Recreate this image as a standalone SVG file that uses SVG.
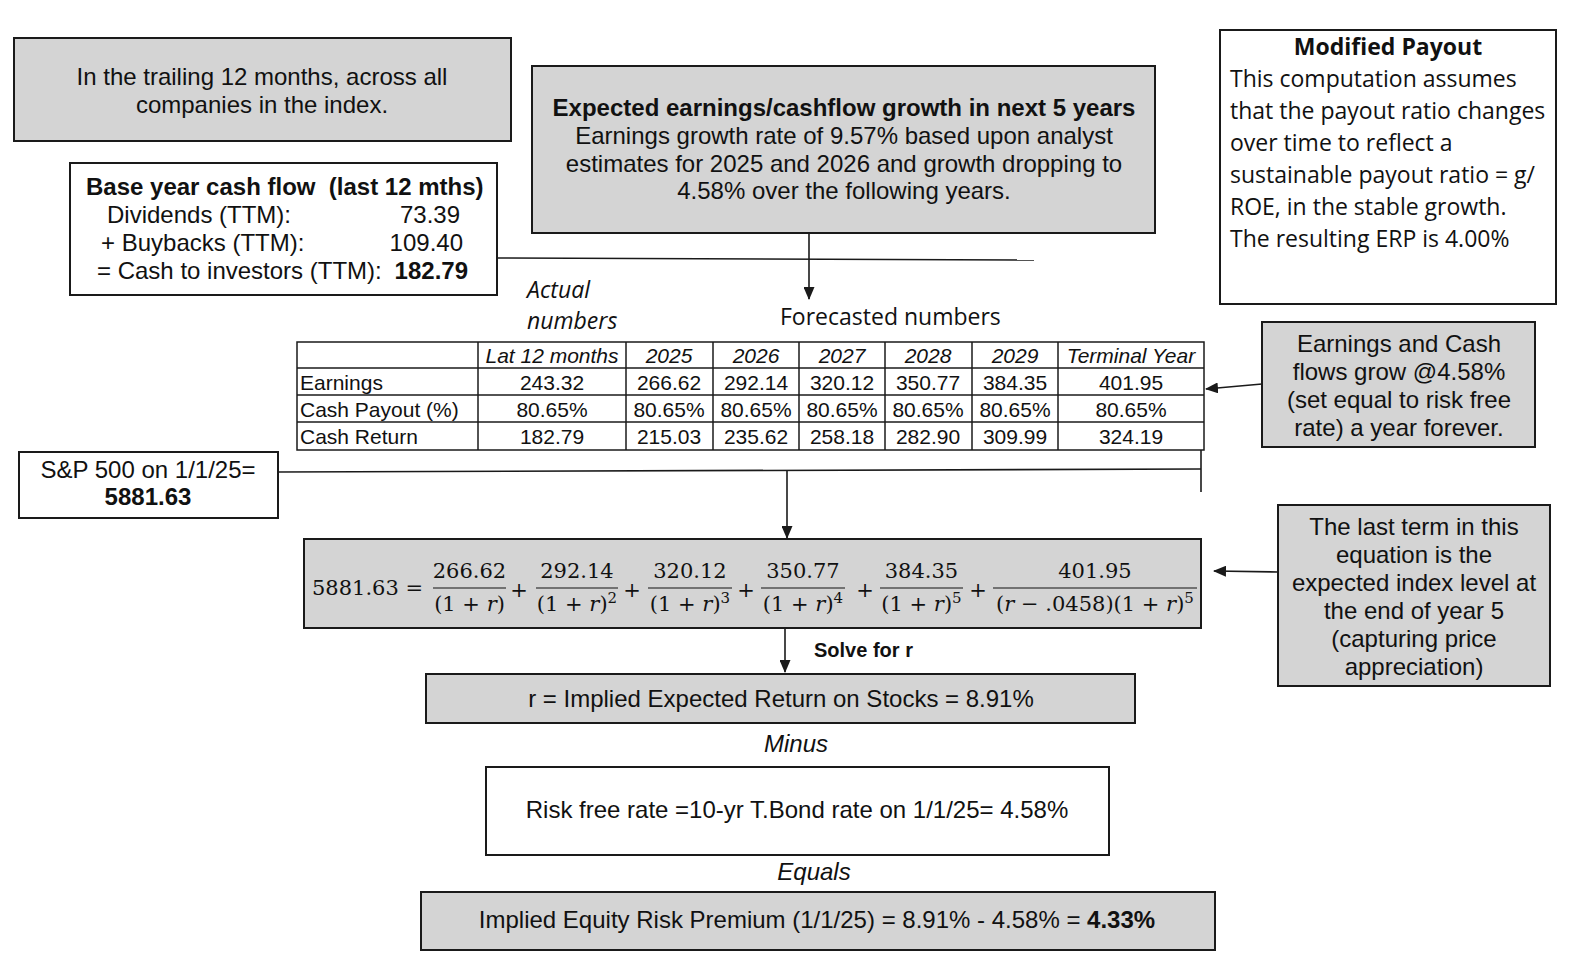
<svg xmlns="http://www.w3.org/2000/svg" width="1578" height="972" viewBox="0 0 1578 972">
<style>
.box{stroke:#1a1a1a;stroke-width:2;}
.g{fill:#d4d4d4;}
.w{fill:#ffffff;}
.t{font-family:"Liberation Sans",Arial,sans-serif;font-size:24px;fill:#111;}
.c{text-anchor:middle;}
.e{text-anchor:end;}
.b{font-weight:bold;}
.i{font-style:italic;}
.av{font-family:"Open Sans","Noto Sans",sans-serif;font-size:23px;fill:#111;}
.tb{font-family:"Liberation Sans",Arial,sans-serif;font-size:21px;fill:#111;}
.m{font-family:"DejaVu Serif","Liberation Serif",serif;font-size:21px;fill:#111;}
.sup{font-size:15px;}
.ln{stroke:#1a1a1a;stroke-width:1.6;fill:none;}
.tl{stroke:#1a1a1a;stroke-width:1.5;fill:none;}
.s20{font-size:20px;}
</style>
<defs>
<marker id="ah" markerUnits="userSpaceOnUse" markerWidth="13" markerHeight="11" refX="12" refY="5.5" orient="auto">
<path d="M0,0 L13,5.5 L0,11 z" fill="#1a1a1a"/>
</marker>
</defs>
<rect width="1578" height="972" fill="#ffffff"/>

<g id="connectors">
<line class="ln" x1="497" y1="258" x2="1034" y2="260"/>
<line class="ln" x1="809" y1="233" x2="809" y2="299" marker-end="url(#ah)"/>
<line class="ln" x1="1262" y1="384" x2="1206" y2="389" marker-end="url(#ah)"/>
<line class="ln" x1="278" y1="472" x2="1201" y2="469"/>
<line class="ln" x1="1201" y1="450" x2="1201" y2="492"/>
<line class="ln" x1="787" y1="471" x2="787" y2="538" marker-end="url(#ah)"/>
<line class="ln" x1="1278" y1="572" x2="1214" y2="571" marker-end="url(#ah)"/>
<line class="ln" x1="785" y1="628" x2="785" y2="672" marker-end="url(#ah)"/>
</g>

<g id="trailing">
<rect class="box g" x="14" y="38" width="497" height="103"/>
<text class="t c" x="262" y="85">In the trailing 12 months, across all</text>
<text class="t c" x="262" y="113">companies in the index.</text>
</g>

<g id="base-year">
<rect class="box w" x="70" y="163" width="427" height="132"/>
<text class="t b" x="86" y="195">Base year cash flow &#160;(last 12 mths)</text>
<text class="t" x="107" y="223">Dividends (TTM):</text>
<text class="t e" x="460" y="223">73.39</text>
<text class="t" x="101" y="251">+ Buybacks (TTM):</text>
<text class="t e" x="463" y="251">109.40</text>
<text class="t" x="97" y="279">= Cash to investors (TTM):</text>
<text class="t e b" x="468" y="279">182.79</text>
</g>

<g id="growth">
<rect class="box g" x="532" y="66" width="623" height="167"/>
<text class="t c b" x="844" y="116">Expected earnings/cashflow growth in next 5 years</text>
<text class="t c" x="844" y="144">Earnings growth rate of 9.57% based upon analyst</text>
<text class="t c" x="844" y="172">estimates for 2025 and 2026 and growth dropping to</text>
<text class="t c" x="844" y="199">4.58% over the following years.</text>
</g>

<g id="modified-payout">
<rect class="box w" x="1220" y="30" width="336" height="274"/>
<text class="av c" x="1388" y="55" font-weight="bold">Modified Payout</text>
<text class="av" x="1230" y="87">This computation assumes</text>
<text class="av" x="1230" y="119">that the payout ratio changes</text>
<text class="av" x="1230" y="151">over time to reflect a</text>
<text class="av" x="1230" y="183">sustainable payout ratio = g/</text>
<text class="av" x="1230" y="215">ROE, in the stable growth.</text>
<text class="av" x="1230" y="247">The resulting ERP is 4.00%</text>
</g>

<g id="labels">
<text class="av i" x="527" y="298">Actual</text>
<text class="av i" x="527" y="329">numbers</text>
<text class="av" x="780" y="325">Forecasted numbers</text>
</g>

<g id="table">
<rect class="tl" x="297" y="342" width="907" height="108" fill="#fff"/>
<line class="tl" x1="297" y1="368" x2="1204" y2="368"/>
<line class="tl" x1="297" y1="395" x2="1204" y2="395"/>
<line class="tl" x1="297" y1="422" x2="1204" y2="422"/>
<line class="tl" x1="478" y1="342" x2="478" y2="450"/>
<line class="tl" x1="626" y1="342" x2="626" y2="450"/>
<line class="tl" x1="713" y1="342" x2="713" y2="450"/>
<line class="tl" x1="799" y1="342" x2="799" y2="450"/>
<line class="tl" x1="885" y1="342" x2="885" y2="450"/>
<line class="tl" x1="972" y1="342" x2="972" y2="450"/>
<line class="tl" x1="1058" y1="342" x2="1058" y2="450"/>
<g class="tb i c">
<text x="552" y="363">Lat 12 months</text>
<text x="669" y="363">2025</text>
<text x="756" y="363">2026</text>
<text x="842" y="363">2027</text>
<text x="928" y="363">2028</text>
<text x="1015" y="363">2029</text>
<text x="1131" y="363">Terminal Year</text>
</g>
<g class="tb">
<text x="300" y="390">Earnings</text>
<text x="300" y="417">Cash Payout (%)</text>
<text x="300" y="444">Cash Return</text>
</g>
<g class="tb c">
<text x="552" y="390">243.32</text>
<text x="669" y="390">266.62</text>
<text x="756" y="390">292.14</text>
<text x="842" y="390">320.12</text>
<text x="928" y="390">350.77</text>
<text x="1015" y="390">384.35</text>
<text x="1131" y="390">401.95</text>
<text x="552" y="417">80.65%</text>
<text x="669" y="417">80.65%</text>
<text x="756" y="417">80.65%</text>
<text x="842" y="417">80.65%</text>
<text x="928" y="417">80.65%</text>
<text x="1015" y="417">80.65%</text>
<text x="1131" y="417">80.65%</text>
<text x="552" y="444">182.79</text>
<text x="669" y="444">215.03</text>
<text x="756" y="444">235.62</text>
<text x="842" y="444">258.18</text>
<text x="928" y="444">282.90</text>
<text x="1015" y="444">309.99</text>
<text x="1131" y="444">324.19</text>
</g>
</g>

<g id="earnings-grow">
<rect class="box g" x="1262" y="322" width="273" height="125"/>
<text class="t c" x="1399" y="352">Earnings and Cash</text>
<text class="t c" x="1399" y="380">flows grow @4.58%</text>
<text class="t c" x="1399" y="408">(set equal to risk free</text>
<text class="t c" x="1399" y="436">rate) a year forever.</text>
</g>

<g id="sp500">
<rect class="box w" x="19" y="452" width="259" height="66"/>
<text class="t c" x="148" y="478">S&amp;P 500 on 1/1/25=</text>
<text class="t c b" x="148" y="505">5881.63</text>
</g>

<g id="equation">
<rect class="box g" x="304" y="539" width="897" height="89"/>
<text class="m" x="312" y="595">5881.63 =</text>
<g class="m c">
<text x="469.5" y="578">266.62</text>
<text x="577" y="578">292.14</text>
<text x="690" y="578">320.12</text>
<text x="803" y="578">350.77</text>
<text x="921.5" y="578">384.35</text>
<text x="1095" y="578">401.95</text>
<text x="469.5" y="611">(1 + <tspan font-style="italic">r</tspan>)</text>
<text x="577" y="611">(1 + <tspan font-style="italic">r</tspan>)<tspan class="sup" dy="-8">2</tspan></text>
<text x="690" y="611">(1 + <tspan font-style="italic">r</tspan>)<tspan class="sup" dy="-8">3</tspan></text>
<text x="803" y="611">(1 + <tspan font-style="italic">r</tspan>)<tspan class="sup" dy="-8">4</tspan></text>
<text x="921.5" y="611">(1 + <tspan font-style="italic">r</tspan>)<tspan class="sup" dy="-8">5</tspan></text>
<text x="1095" y="611">(<tspan font-style="italic">r</tspan> − .0458)(1 + <tspan font-style="italic">r</tspan>)<tspan class="sup" dy="-8">5</tspan></text>
<text x="519" y="597">+</text>
<text x="632" y="597">+</text>
<text x="746" y="597">+</text>
<text x="865" y="597">+</text>
<text x="978" y="597">+</text>
</g>
<g stroke="#111" stroke-width="1.2">
<line x1="433" y1="588" x2="506" y2="588"/>
<line x1="536" y1="588" x2="618" y2="588"/>
<line x1="648" y1="588" x2="732" y2="588"/>
<line x1="761" y1="588" x2="845" y2="588"/>
<line x1="880" y1="588" x2="963" y2="588"/>
<line x1="993" y1="588" x2="1197" y2="588"/>
</g>
</g>

<g id="last-term">
<rect class="box g" x="1278" y="505" width="272" height="181"/>
<text class="t c" x="1414" y="535">The last term in this</text>
<text class="t c" x="1414" y="563">equation is the</text>
<text class="t c" x="1414" y="591">expected index level at</text>
<text class="t c" x="1414" y="619">the end of year 5</text>
<text class="t c" x="1414" y="647">(capturing price</text>
<text class="t c" x="1414" y="675">appreciation)</text>
</g>

<text id="solve-label" class="t b s20" x="814" y="657">Solve for r</text>

<g id="expected-return">
<rect class="box g" x="426" y="674" width="709" height="49"/>
<text class="t c" x="781" y="707">r = Implied Expected Return on Stocks = 8.91%</text>
</g>

<text id="minus" class="t c i" x="796" y="752">Minus</text>

<g id="risk-free">
<rect class="box w" x="486" y="767" width="623" height="88"/>
<text class="t c" x="797" y="818">Risk free rate =10-yr T.Bond rate on 1/1/25= 4.58%</text>
</g>

<text id="equals" class="t c i" x="814" y="880">Equals</text>

<g id="erp">
<rect class="box g" x="421" y="892" width="794" height="58"/>
<text class="t c" x="817" y="928">Implied Equity Risk Premium (1/1/25) = 8.91% - 4.58% = <tspan font-weight="bold">4.33%</tspan></text>
</g>
</svg>
